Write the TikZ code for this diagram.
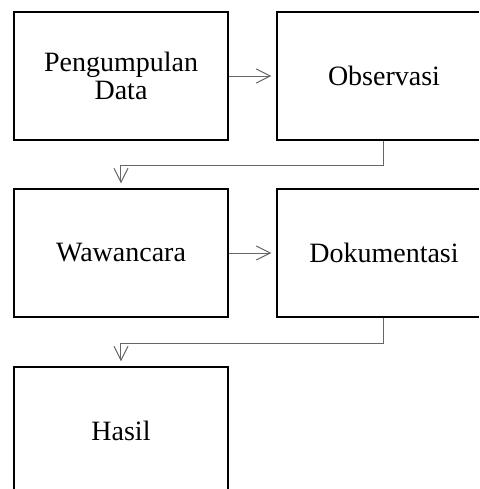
\documentclass[tikz,border=0pt]{standalone}
\usepackage{fontspec}
\setmainfont{Liberation Serif}
\usetikzlibrary{arrows.meta}
\begin{document}
\begin{tikzpicture}[x=0.5pt, y=-0.5pt]
    \tikzstyle{box} = [draw, line width=0.65pt, minimum width=107pt, minimum height=64pt, align=center, inner sep=0pt, font=\fontsize{14}{14}\selectfont]
    \tikzstyle{link} = [draw=black!60, line width=0.5pt, -{Straight Barb[length=7pt, width=7pt]}, shorten >=2.5pt]
    \useasboundingbox (0,0) rectangle (479,489);
    \clip (0,0) rectangle (479,489);
    \node[box] (data) at (121,76) {Pengumpulan\\Data};
    \node[box] (obs) at (384,76) {Observasi};
    \node[box] (waw) at (121,253) {Wawancara};
    \node[box] (dok) at (384,253) {Dokumentasi};
    \node[box] (hasil) at (121,431) {Hasil};
    \draw[link] (data) -- (obs);
    \draw[link] (obs.south) -- ++(0,25) -| (waw.north);
    \draw[link] (waw) -- (dok);
    \draw[link] (dok.south) -- ++(0,26) -| (hasil.north);
\end{tikzpicture}
\end{document}
